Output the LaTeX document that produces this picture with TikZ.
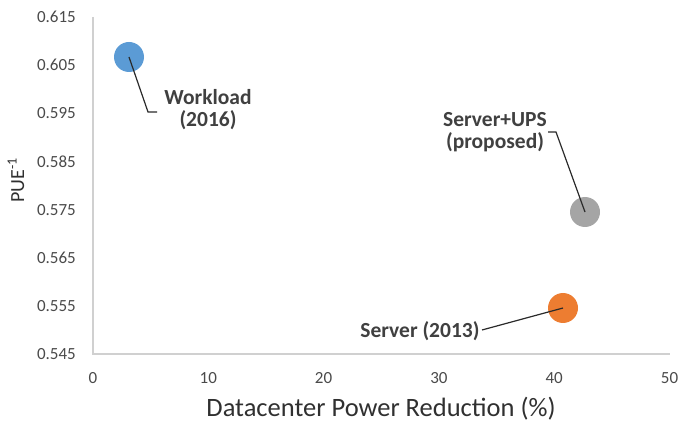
\documentclass[tikz,border=0pt]{standalone}
\usepackage{fontspec}
\setmainfont{Carlito}
\definecolor{ticktext}{HTML}{4A4A4A}
\definecolor{labtext}{HTML}{404040}
\definecolor{titletext}{HTML}{303030}
\definecolor{axisgray}{HTML}{D0D0D0}
\definecolor{ptblue}{HTML}{5B9BD5}
\definecolor{ptgray}{HTML}{A5A5A5}
\definecolor{ptorange}{HTML}{ED7D31}
\definecolor{leader}{HTML}{2A2A2A}
\tikzset{
  axisline/.style={draw=axisgray, line width=1.2pt},
  ytick/.style={anchor=east, text=ticktext, font=\fontsize{17}{20}\selectfont, inner sep=0pt},
  xtick/.style={anchor=center, text=ticktext, font=\fontsize{17}{20}\selectfont, inner sep=0pt},
  pt/.style={circle, minimum size=30pt, inner sep=0pt, draw=none},
  ptlabel/.style={text=labtext, font=\fontsize{21.5}{22}\selectfont\bfseries, align=center, inner sep=2pt},
  leaderline/.style={draw=leader, line width=1.2pt},
}
\begin{document}
\begin{tikzpicture}[x=1pt, y=-1pt]
\useasboundingbox (0,0) rectangle (678,422);
% axes
\coordinate (origin) at (93,354);
\coordinate (ytop) at (93,17);
\coordinate (xend) at (670,354);
\draw[axisline] (ytop) -- (origin) -- (xend);
% y tick labels
\foreach \v [count=\i from 0] in {0.615,0.605,0.595,0.585,0.575,0.565,0.555,0.545} {
  \node[ytick] (yt\i) at (76,{17+48.14*\i}) {\v};
}
% x tick labels
\foreach \v [count=\i from 0] in {0,10,20,30,40,50} {
  \node[xtick] (xt\i) at ({93+115.3*\i},378) {\v};
}
% axis titles
\node[text=titletext, font=\fontsize{26.5}{30}\selectfont, inner sep=0pt] (xtitle) at (381,409) {Datacenter Power Reduction (\%)};
\node[text=titletext, font=\fontsize{20}{24}\selectfont, rotate=90, inner sep=0pt] (ytitle) at (16,180) {PUE\textsuperscript{-1}};
% data points
\node[pt, fill=ptblue] (workload) at (129,57) {};
\node[pt, fill=ptgray] (ups) at (585,212) {};
\node[pt, fill=ptorange] (server) at (563,308) {};
% labels
\node[ptlabel] (lworkload) at (208,110) {Workload\\(2016)};
\node[ptlabel] (lups) at (495,132) {Server+UPS\\(proposed)};
\node[ptlabel] (lserver) at (420,331) {Server (2013)};
% leader lines
\coordinate (bw) at (148,112);
\coordinate (ew) at (157,112);
\draw[leaderline] (workload.center) -- (bw) -- (ew);
\coordinate (bu) at (556,132);
\coordinate (eu) at (548,132);
\draw[leaderline] (ups.center) -- (bu) -- (eu);
\coordinate (es) at (482,330);
\draw[leaderline] (server.center) -- (es);
\end{tikzpicture}
\end{document}
